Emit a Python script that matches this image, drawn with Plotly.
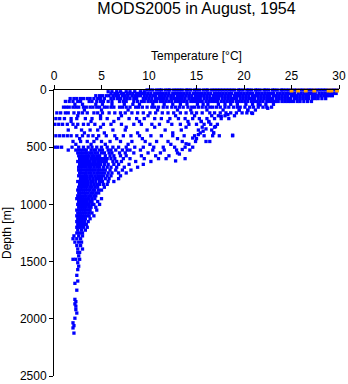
import plotly.graph_objects as go

# ---- Surface / upper standard-depth bands (depth in m, temperatures in degC) ----
band_depths = [0, 15, 30, 50, 75, 100, 125, 150, 175, 200, 225, 250, 275, 300,
               325, 350, 375, 400, 425, 450, 475, 500]

t_d0 = [9.8, 10.1, 10.4, 10.8, 11.1, 11.3, 11.7, 12.0, 12.2, 12.6, 12.9, 13.2, 13.5, 13.9,
        14.1, 14.4, 14.8, 15.0, 15.3, 15.7, 16.0, 16.2, 16.6, 16.9, 17.2, 17.5, 17.8, 18.1,
        18.4, 18.7, 19.0, 19.4, 19.6, 19.9, 20.3, 20.5, 20.8, 21.2, 21.4, 21.7, 22.1, 22.3,
        22.6, 23.0, 23.2, 23.5, 23.9, 24.1, 24.4, 24.7, 25.0, 25.3, 25.6, 25.9, 26.2, 26.5,
        26.8, 27.1, 27.4, 27.7, 28.0, 28.3, 28.6, 28.9, 29.2, 29.5, 29.8]
t_d15 = [5.7, 6.1, 6.6, 7.0, 7.6, 8.0, 8.5, 9.1, 9.5]
t_d30 = [6.0, 6.4, 6.7, 7.1, 7.3, 7.7, 8.0, 8.3, 8.7, 9.0, 9.3, 9.6, 9.9, 10.2, 10.6, 10.9,
         11.2, 11.5, 11.8, 12.1, 12.5, 12.8, 13.1, 13.4, 13.7, 14.0, 14.3, 14.7, 15.0, 15.3,
         15.6, 15.9, 16.2, 16.5, 16.9, 17.2, 17.5, 17.8, 18.1, 18.4, 18.7, 19.1, 19.4, 19.7,
         20.0, 20.3, 20.6, 20.9, 21.3, 21.6, 21.9, 22.2, 22.5, 22.8, 23.1, 23.5, 23.8, 24.1,
         24.4, 24.7, 25.0, 25.3, 25.7, 26.0, 26.3, 26.6, 26.9, 27.2, 27.5, 27.9, 28.2, 28.5,
         28.8, 29.1, 29.4, 29.7]
t_d50 = [4.4, 4.8, 5.1, 5.5, 5.8, 6.2, 6.5, 6.8, 7.2, 7.5, 7.8, 8.2, 8.5, 8.8, 9.1, 9.5,
         9.8, 10.1, 10.4, 10.7, 11.1, 11.4, 11.7, 12.0, 12.3, 12.6, 13.0, 13.3, 13.6, 13.9,
         14.2, 14.5, 14.9, 15.2, 15.5, 15.8, 16.1, 16.4, 16.8, 17.1, 17.4, 17.7, 18.0, 18.3,
         18.6, 19.0, 19.3, 19.6, 19.9, 20.2, 20.5, 20.9, 21.2, 21.5, 21.8, 22.1, 22.4, 22.7,
         23.1, 23.4, 23.7, 24.0, 24.3, 24.6, 25.0, 25.3, 25.6, 25.9, 26.2, 26.5, 26.8, 27.2,
         27.5, 27.8, 28.1, 28.4, 28.7, 29.0, 29.3]
t_d75 = [1.7, 2.1, 2.4, 2.8, 3.1, 3.5, 3.8, 4.2, 4.6, 4.9, 5.3, 6.0, 6.3, 6.7, 7.0, 7.4,
         7.7, 8.0, 8.4, 8.7, 9.4, 9.7, 10.0, 10.3, 10.7, 11.0, 11.3, 11.6, 11.9, 12.3, 12.6,
         12.9, 13.2, 13.5, 13.8, 14.2, 14.5, 14.8, 15.1, 15.4, 15.8, 16.1, 16.4, 16.7, 17.0,
         17.3, 17.7, 18.0, 18.3, 18.6, 18.9, 19.2, 19.6, 19.9, 20.2, 20.5, 20.8, 21.1, 21.5,
         21.8, 22.1, 22.4, 22.7, 23.0, 23.4, 23.7, 24.0, 24.3, 24.6, 24.9, 25.3, 25.6, 25.9,
         26.2, 26.5, 26.8, 27.2, 27.5, 27.8, 28.2, 28.6]
t_d100 = [1.2, 1.6, 2.0, 2.5, 2.8, 3.7, 4.0, 4.5, 4.9, 5.2, 5.7, 6.1, 6.9, 7.3, 7.6, 8.4,
          8.8, 9.2, 9.5, 9.9, 10.2, 10.5, 10.8, 11.2, 11.5, 11.8, 12.1, 12.4, 12.8, 13.1,
          13.4, 13.7, 14.0, 14.4, 14.7, 15.0, 15.3, 15.6, 16.0, 16.3, 16.6, 16.9, 17.2, 17.6,
          17.9, 18.2, 18.5, 18.8, 19.2, 19.5, 19.8, 20.1, 20.4, 20.8, 21.1, 21.4, 21.7, 22.0,
          22.4, 22.7, 23.0, 23.3, 23.6, 24.0, 24.3, 24.6, 24.9, 25.2, 25.6, 25.9, 26.3, 26.7,
          27.1]
t_d125 = [2.2, 3.0, 4.4, 5.1, 6.1, 7.4, 8.3, 9.0, 10.4, 11.6, 12.5, 13.3, 14.0, 15.1, 15.7,
          16.2, 17.3, 18.0, 18.6, 19.3, 20.2, 20.9, 21.5, 22.3, 23.1]
t_d150 = [1.0, 1.3, 1.6, 2.0, 2.3, 2.6, 3.1, 3.4, 3.8, 4.1, 4.5, 4.8, 5.3, 5.6, 6.0, 6.3,
          6.9, 7.2, 7.6, 8.0, 8.6, 8.9, 9.3, 9.8, 10.3, 10.6, 11.0, 11.5, 11.9, 12.4, 12.8,
          13.2, 13.6, 14.1, 14.5, 14.8, 15.2, 15.6, 16.0, 16.4, 16.7, 17.1, 17.5, 18.0, 18.4,
          18.9, 19.3, 19.6, 20.1, 20.6, 21.0, 21.5, 22.0, 22.4, 22.9]
t_d175 = [3.2, 5.0, 7.8, 10.9, 13.0, 14.4, 16.1, 17.8, 19.5, 20.4, 21.2]
t_d200 = [0.3, 0.7, 1.2, 1.5, 2.1, 2.6, 3.0, 3.5, 4.2, 4.6, 5.1, 5.8, 6.4, 7.0, 7.5, 8.2,
          8.8, 9.4, 10.1, 10.7, 11.4, 12.0, 12.6, 13.3, 13.9, 14.5, 15.0, 15.6, 16.4, 16.9,
          17.5, 18.1, 18.6, 19.2, 19.8, 20.3, 20.8]
t_d225 = [2.5, 4.9, 7.1, 9.9, 12.8, 14.8, 16.6, 17.3, 18.0, 19.0]
t_d250 = [0.2, 0.6, 1.1, 1.8, 2.4, 3.3, 4.0, 4.9, 5.6, 6.8, 7.9, 8.7, 9.5, 10.6, 11.3, 12.2,
          13.1, 13.8, 14.6, 15.3, 16.1, 16.9, 17.6, 18.4]
t_d275 = [1.8, 3.9, 6.3, 9.0, 12.0, 14.1, 15.5, 16.3]
t_d300 = [0.1, 0.5, 0.9, 1.4, 2.0, 2.5, 3.1, 3.6, 4.3, 5.2, 6.0, 7.1, 8.4, 9.2, 10.3, 11.1,
          12.4, 13.3, 14.2, 15.0, 15.8, 16.5, 17.2]
t_d325 = [2.3, 4.9, 7.6, 10.6, 13.9, 15.6, 16.9]
t_d350 = [1.5, 2.9, 3.8, 4.6, 6.2, 7.5, 9.8, 11.7, 13.4, 15.2, 16.6]
t_d375 = [3.2, 5.3, 8.8, 12.5, 15.4, 16.8]
t_d400 = [0.2, 0.6, 1.0, 1.4, 1.8, 2.4, 3.0, 3.6, 4.1, 4.7, 5.5, 6.4, 7.3, 8.1, 9.0, 10.2,
          11.3, 12.5, 13.7, 14.8, 15.8, 16.7, 17.4, 18.8]
t_d425 = [2.7, 4.5, 6.6, 9.3, 13.0, 15.0]
t_d450 = [2.0, 2.8, 3.5, 4.2, 5.0, 5.9, 7.0, 8.2, 9.6, 10.8, 12.0, 13.5, 14.9, 16.0, 16.4]
t_d475 = [2.3, 3.9, 5.4, 7.8, 10.1, 12.3, 14.2]
t_d500 = [0.1, 0.4, 0.8, 1.9, 2.6, 3.1, 3.6, 4.0, 4.5, 5.0, 5.6, 6.2, 6.8, 7.6, 8.5, 9.4,
          10.5, 11.5, 12.7, 13.8, 14.6]

band_temps = [t_d0, t_d15, t_d30, t_d50, t_d75, t_d100, t_d125, t_d150, t_d175, t_d200,
              t_d225, t_d250, t_d275, t_d300, t_d325, t_d350, t_d375, t_d400, t_d425,
              t_d450, t_d475, t_d500]

# ---- Intermediate / deep cloud ----
cloud_depths = [525, 550, 575, 600, 625, 650, 675, 700, 725, 750, 775, 800, 825, 850, 875,
                900, 925, 950, 975, 1000, 1025, 1050, 1075, 1100, 1125, 1150, 1175, 1200,
                1225, 1250, 1275, 1300, 1330, 1360, 1390, 1420, 1450, 1480]
cloud_temps = [
    [1.5, 2.3, 2.6, 2.9, 3.2, 3.4, 3.9, 4.2, 4.4, 4.8, 5.1, 5.7, 6.0, 6.5, 7.2, 7.7, 8.0,
     9.1, 10.4, 11.6, 12.9, 14.3],
    [2.5, 2.8, 3.0, 3.3, 3.5, 3.8, 4.0, 4.3, 4.6, 5.0, 5.3, 5.8, 6.1, 6.9, 7.5, 8.4, 9.9,
     11.2, 13.0],
    [2.6, 2.9, 3.2, 3.5, 3.7, 4.0, 4.2, 4.5, 4.8, 5.4, 5.9, 6.3, 7.0, 7.6, 9.2, 10.7, 12.1],
    [2.7, 2.9, 3.1, 3.4, 3.6, 3.9, 4.1, 4.3, 4.5, 4.8, 5.0, 5.3, 5.6, 6.0, 6.4, 7.3, 8.0,
     9.5, 11.0, 11.8],
    [2.5, 2.8, 3.0, 3.3, 3.6, 3.8, 4.1, 4.3, 4.6, 4.9, 5.2, 5.5, 6.2, 6.6, 7.1, 8.6, 10.2],
    [2.7, 3.0, 3.2, 3.4, 3.6, 3.8, 4.0, 4.2, 4.4, 4.7, 4.9, 5.3, 5.7, 6.3, 6.8, 7.9, 9.4],
    [2.6, 2.8, 3.1, 3.4, 3.7, 3.9, 4.2, 4.5, 4.8, 5.2, 5.6, 6.0, 6.6, 7.4, 8.8],
    [2.6, 2.8, 3.0, 3.3, 3.5, 3.7, 3.9, 4.1, 4.3, 4.6, 4.8, 5.1, 5.4, 5.9, 6.5, 7.2, 8.1],
    [2.7, 2.9, 3.2, 3.4, 3.7, 3.9, 4.2, 4.5, 4.7, 5.0, 5.3, 5.7, 6.1, 6.8, 7.6],
    [2.6, 2.8, 3.1, 3.3, 3.5, 3.8, 4.0, 4.3, 4.6, 4.9, 5.2, 5.6, 6.0, 7.0],
    [2.8, 3.0, 3.3, 3.5, 3.8, 4.1, 4.4, 4.7, 5.0, 5.4, 5.8, 6.8],
    [2.5, 2.7, 2.9, 3.2, 3.4, 3.6, 3.9, 4.1, 4.4, 4.8, 5.1, 5.7, 6.3],
    [2.7, 2.9, 3.1, 3.4, 3.6, 3.9, 4.2, 4.5, 4.8, 5.2, 5.6],
    [2.6, 2.8, 3.0, 3.3, 3.5, 3.8, 4.0, 4.3, 4.6, 5.3],
    [2.5, 2.7, 2.9, 3.1, 3.3, 3.6, 3.8, 4.1, 4.3, 4.7, 5.0],
    [2.6, 2.8, 3.1, 3.3, 3.6, 3.9, 4.1, 4.4, 4.7],
    [2.5, 2.7, 2.9, 3.2, 3.4, 3.7, 3.9, 4.2, 4.4],
    [2.4, 2.6, 2.8, 3.0, 3.2, 3.5, 3.7, 4.0, 4.3, 5.0],
    [2.6, 2.8, 3.0, 3.3, 3.5, 3.8, 4.0, 4.6],
    [2.5, 2.7, 2.8, 3.1, 3.3, 3.5, 3.7, 4.0, 4.2, 4.8],
    [2.6, 2.8, 3.0, 3.2, 3.4, 3.7, 3.9, 4.4],
    [2.4, 2.7, 2.9, 3.1, 3.3, 3.6, 3.8, 4.5],
    [2.5, 2.7, 2.9, 3.2, 3.4, 3.7, 4.0],
    [2.4, 2.6, 2.8, 3.0, 3.2, 3.5, 3.7, 4.2],
    [2.5, 2.7, 2.9, 3.1, 3.3, 3.8],
    [2.4, 2.6, 2.8, 3.0, 3.2, 3.6],
    [2.5, 2.7, 2.9, 3.1, 3.4],
    [2.4, 2.6, 2.8, 3.1, 3.5],
    [2.5, 2.9, 3.3],
    [2.4, 2.7, 3.0],
    [2.1, 2.6, 3.0],
    [2.0, 2.4, 2.8],
    [2.2, 2.6, 2.9],
    [2.4, 2.8],
    [2.5, 3.0],
    [2.5, 2.7],
    [2.6],
    [2.0, 2.3, 2.7],
]

# ---- Isolated profiles / scattered points (temperature, depth) ----
extra_temp = [15.5, 16.3, 17.0, 16.0, 15.7, 16.8, 15.2, 14.6, 13.9, 13.5, 13.2, 13.8, 12.8,
              18.8, 17.6, 18.3, 19.5, 20.4, 21.7, 22.5, 20.9,
              2.5, 2.6, 2.5, 2.4, 2.5, 2.2, 2.4, 2.2, 2.3, 2.2, 2.3, 2.3, 2.4, 2.2, 2.0, 2.1,
              2.0, 2.1]
extra_depth = [275, 280, 320, 340, 360, 375, 390, 420, 470, 520, 560, 600, 620,
               395, 230, 215, 175, 180, 130, 160, 205,
               1510, 1540, 1570, 1620, 1670, 1690, 1750, 1830, 1850, 1870, 1890, 1920, 1950,
               1995, 2035, 2060, 2080, 2125]

# ---- Highlighted (orange) surface observations ----
orange_temp = [25.0, 25.7, 26.5, 27.4, 28.9, 29.2, 29.8]
orange_depth = [5, 5, 5, 5, 5, 5, 5]

x_ticks = [0, 5, 10, 15, 20, 25, 30]
y_ticks = [0, 500, 1000, 1500, 2000, 2500]

xs, ys = [], []
for d, temps in zip(band_depths, band_temps):
    xs.extend(temps)
    ys.extend([d] * len(temps))
for d, temps in zip(cloud_depths, cloud_temps):
    xs.extend(temps)
    ys.extend([d] * len(temps))
xs.extend(extra_temp)
ys.extend(extra_depth)

fig = go.Figure()
fig.add_trace(go.Scatter(
    x=xs, y=ys, mode="markers",
    marker=dict(symbol="square", size=3.3, color="#0000ff", line=dict(width=0)),
    showlegend=False, hoverinfo="skip", cliponaxis=False,
))
fig.add_trace(go.Scatter(
    x=orange_temp, y=orange_depth, mode="markers",
    marker=dict(symbol="square", size=3.8, color="#ffa500", line=dict(width=0)),
    showlegend=False, hoverinfo="skip", cliponaxis=False,
))

axis_common = dict(
    showline=True, linecolor="black", linewidth=1,
    ticks="outside", ticklen=4, tickwidth=1, tickcolor="black",
    showgrid=False, zeroline=False, automargin=False,
    tickfont=dict(size=12, color="black"),
)

fig.update_layout(
    template="none",
    width=348, height=384,
    margin=dict(l=54, r=9, t=90, b=8),
    paper_bgcolor="white", plot_bgcolor="white",
    font=dict(family="Liberation Sans, Arial, sans-serif", size=12, color="black"),
    title=dict(text="MODS2005 in August, 1954", x=0.5, xref="paper", xanchor="center",
               y=1 - 8.5 / 384, yref="container", yanchor="middle",
               font=dict(size=16, color="black")),
    xaxis=dict(side="top", range=[0, 30], tickvals=x_ticks,
               title=dict(text="Temperature [°C]", standoff=6, font=dict(size=12)),
               **axis_common),
    yaxis=dict(range=[2500, 0], tickvals=y_ticks,
               title=dict(text="Depth [m]", standoff=6, font=dict(size=12)),
               **axis_common),
)

fig.write_html("out.html",
               config={"displayModeBar": False},
               post_script="document.body.style.margin='0';document.body.style.padding='0';")
